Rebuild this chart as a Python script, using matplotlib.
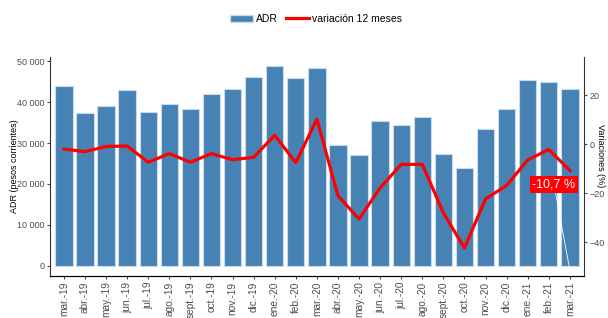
import matplotlib.pyplot as plt
import matplotlib.ticker as mticker
from matplotlib.lines import Line2D
from matplotlib.patches import Patch

plt.rcParams['font.family'] = ['Liberation Sans', 'DejaVu Sans']

months = ['mar.-19', 'abr.-19', 'may.-19', 'jun.-19', 'jul.-19', 'ago.-19', 'sept.-19',
          'oct.-19', 'nov.-19', 'dic.-19', 'ene.-20', 'feb.-20', 'mar.-20', 'abr.-20',
          'may.-20', 'jun.-20', 'jul.-20', 'ago.-20', 'sept.-20', 'oct.-20', 'nov.-20',
          'dic.-20', 'ene.-21', 'feb.-21', 'mar.-21']
adr = [43800, 37400, 39000, 43000, 37500, 39600, 38300, 41900, 43200, 46100, 48700,
       45900, 48200, 29500, 27100, 35300, 34500, 36400, 27400, 23900, 33500, 38200,
       45300, 45000, 43100]
variacion = [-1.9, -3.0, -0.9, -0.7, -7.3, -3.8, -7.3, -3.8, -6.3, -5.3, 3.7, -7.5,
             10.3, -21.0, -30.5, -17.8, -8.2, -8.2, -28.0, -42.4, -22.3, -16.8, -6.4,
             -2.1, -10.7]
last_label = '-10,7 %'

grey = '#4d4d4d'
fig = plt.figure(figsize=(6.08, 3.18), dpi=100)
ax = fig.add_axes([0.0822, 0.132, 0.8783, 0.689])
x = list(range(len(months)))

ax.bar(x, adr, width=0.82, color='#4682B4', edgecolor='#c6dbef', linewidth=0.8, zorder=2)
ax.set_xlim(-0.66, 24.67)
ax.set_ylim(-2450, 51000)
ax.yaxis.set_major_locator(mticker.MultipleLocator(10000))
ax.yaxis.set_major_formatter(mticker.FuncFormatter(lambda v, p: f'{int(v):,}'.replace(',', ' ')))
ax.set_xticks(x)
ax.set_xticklabels(months, rotation=90, fontsize=7.3, color=grey)
ax.tick_params(axis='y', labelsize=6.5, colors=grey, length=2.5, pad=1.5)
ax.tick_params(axis='x', length=2.5, colors=grey, pad=1.5)
ax.set_ylabel('ADR (pesos corrientes)', fontsize=6.5, va='center')
ax.yaxis.set_label_coords(-0.066, 0.5)
for s in ['top', 'right']:
    ax.spines[s].set_visible(False)
ax.spines['left'].set_color('#333333')
ax.spines['bottom'].set_color('#333333')

ax2 = ax.twinx()
ax2.plot(x, variacion, color='red', linewidth=2.3, zorder=3)
ax2.set_ylim(-53.8, 35.7)
ax2.yaxis.set_major_locator(mticker.MultipleLocator(20))
ax2.tick_params(axis='y', labelsize=6.5, colors=grey, length=2.5, pad=1.5)
ax2.set_ylabel('Variaciones (%)', fontsize=6.5, rotation=-90, va='center')
ax2.yaxis.set_label_coords(1.03, 0.55)
ax2.spines['top'].set_visible(False)
ax2.spines['left'].set_visible(False)
ax2.spines['right'].set_color('#333333')

ax2.annotate(last_label, xy=(x[-1], -51.5), xytext=(x[-1] - 0.75, -16.5),
             fontsize=9, color='white', ha='center', va='center',
             bbox=dict(boxstyle='square,pad=0.2', fc='red', ec='none'),
             arrowprops=dict(arrowstyle='-', color='white', lw=0.6, shrinkA=0, shrinkB=0))

handles = [Patch(facecolor='#4682B4', edgecolor='#c6dbef'),
           Line2D([0], [0], color='red', linewidth=2.3)]
fig.legend(handles, ['ADR', 'variación 12 meses'], loc='center', bbox_to_anchor=(0.52, 0.94),
           ncol=2, frameon=False, fontsize=7.5, handlelength=2.2, columnspacing=0.8,
           handletextpad=0.3)

fig.savefig('out.png', dpi=100)
